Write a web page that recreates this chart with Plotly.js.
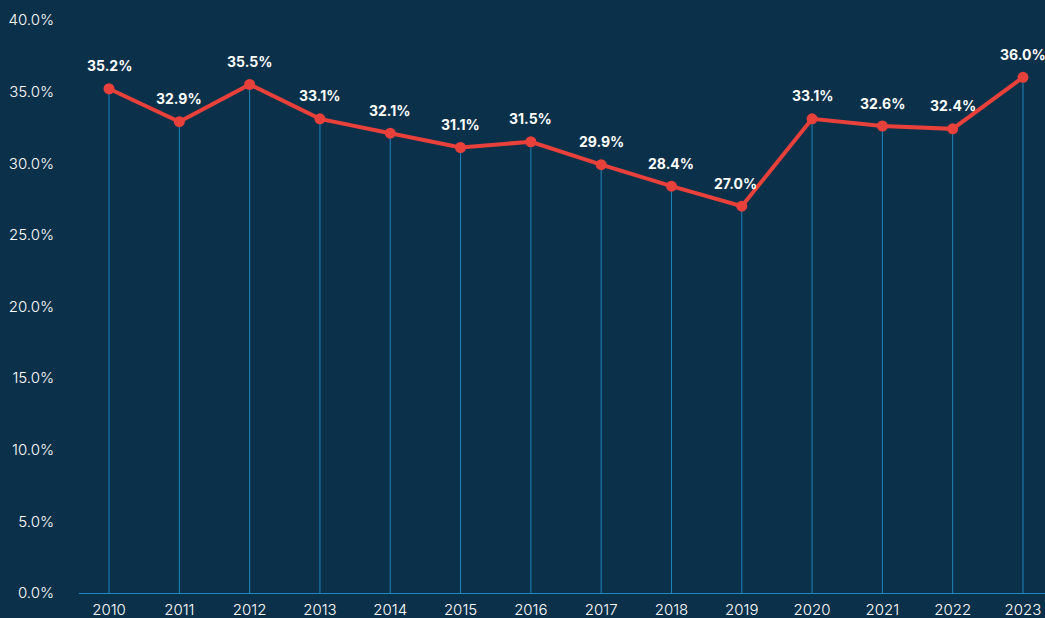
<!DOCTYPE html>
<html><head><meta charset="utf-8">
<script src="https://cdn.plot.ly/plotly-3.0.1.min.js"></script>
<style>html,body{margin:0;padding:0;background:#0b3049;}#c{width:1045px;height:618px;}</style>
</head><body><div id="c"></div>
<script>
const years = [2010,2011,2012,2013,2014,2015,2016,2017,2018,2019,2020,2021,2022,2023];
const values = [35.2,32.9,35.5,33.1,32.1,31.1,31.5,29.9,28.4,27.0,33.1,32.6,32.4,36.0];
const labels = values.map(v => v.toFixed(1) + '%');
const yTicks = [0,5,10,15,20,25,30,35,40];
const yTickText = yTicks.map(v => v.toFixed(1) + '%');

const bg = '#0b3049';
const trace = {
  x: years, y: values, type: 'scatter', mode: 'lines+markers',
  line: {color: '#e8403a', width: 4},
  marker: {color: '#e8403a', size: 11},
  error_y: {type: 'data', symmetric: false, array: values.map(() => 0), arrayminus: values, width: 0, thickness: 1, color: '#1f86bd'},
  cliponaxis: false, hoverinfo: 'skip'
};
const annotations = years.map((yr, i) => ({
  x: yr, y: values[i], text: labels[i], showarrow: false, yshift: 23,
  xshift: i === 9 ? -6 : 0,
  font: {family: 'Inter, sans-serif', size: 14, color: '#ffffff', weight: 700}
}));
const layout = {
  width: 1045, height: 618,
  paper_bgcolor: bg, plot_bgcolor: bg,
  margin: {l: 79, r: 0, t: 20, b: 25},
  showlegend: false,
  annotations: annotations,
  xaxis: {range: [2009.573, 2023.313], tickvals: years, ticktext: years.map(String),
    showgrid: false, zeroline: false, showline: true, linecolor: '#1f86bd', linewidth: 1,
    ticks: '', ticklabelstandoff: 3, tickfont: {family: 'Inter, sans-serif', size: 15, color: '#ffffff', weight: 300}},
  yaxis: {range: [0, 40], tickvals: yTicks, ticktext: yTickText, showgrid: false, zeroline: false,
    showline: false, ticks: '', ticklabelstandoff: 24,
    tickfont: {family: 'Inter, sans-serif', size: 15, color: '#ffffff', weight: 300}}
};
Plotly.newPlot('c', [trace], layout, {displayModeBar: false, staticPlot: true});
</script></body></html>
